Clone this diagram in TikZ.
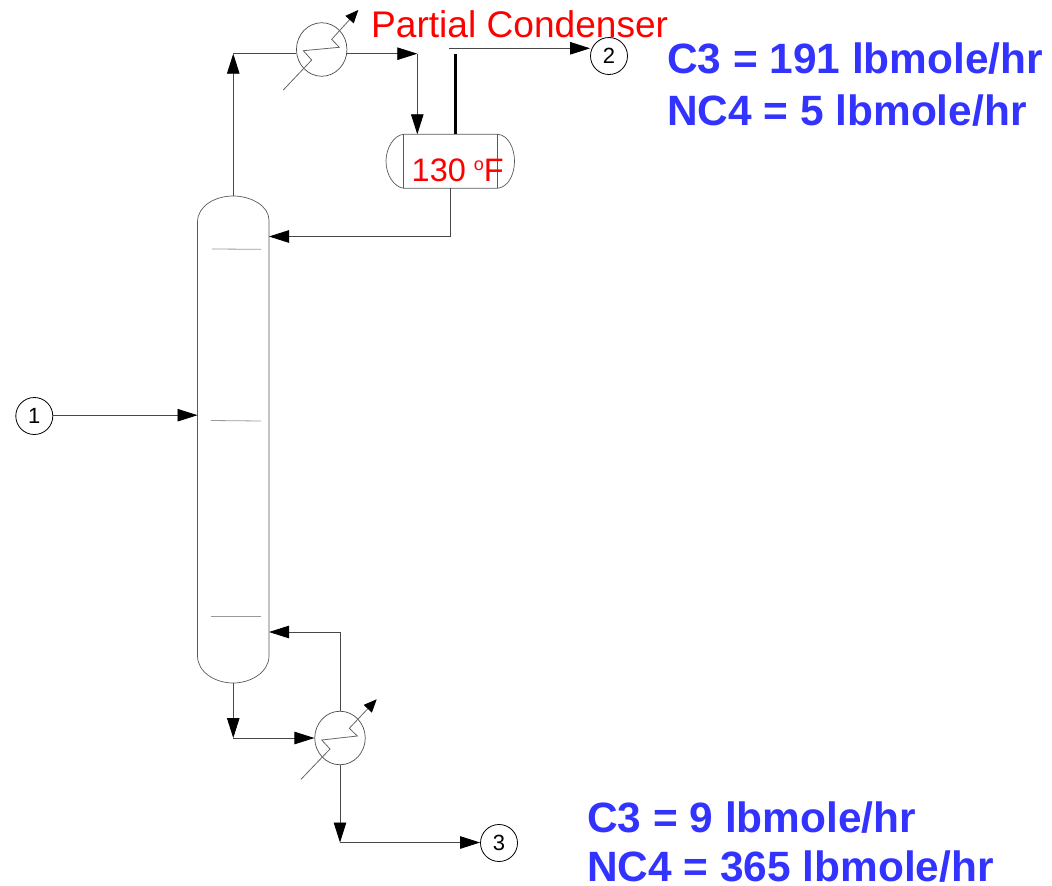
\documentclass[tikz,border=0pt]{standalone}
\usepackage{fontspec}
\setmainfont{Liberation Sans}
\usetikzlibrary{arrows.meta,calc}
\tikzset{
  pipe/.style={draw=black!72,line width=0.8pt},
  flow/.style={pipe,-{Triangle[length=20pt,width=12.5pt,color=black]}},
  utilflow/.style={draw=black!60,line width=0.8pt,-{Triangle[length=13pt,width=11pt,color=black]}},
  shell/.style={draw=black!65,line width=0.7pt},
  tray/.style={draw=black!40,line width=0.8pt},
  hxbox/.style={draw=black!70,line width=0.7pt,circle,minimum size=50.5pt,inner sep=0pt,yscale=1.06},
  stream/.style={draw=black,line width=0.8pt,circle,minimum size=37pt,inner sep=0pt,font=\fontsize{22}{24}\selectfont},
  anchorbox/.style={inner sep=0pt,outer sep=0pt,rectangle},
  redtext/.style={inner sep=0pt,anchor=base west,text=red},
  bluetext/.style={inner sep=0pt,anchor=base west,text=blueish,font=\bfseries\fontsize{42.4}{46}\selectfont},
}
\definecolor{blueish}{HTML}{3333FF}
\begin{document}
\begin{tikzpicture}[x=1pt,y=-1pt]
\useasboundingbox (0,0) rectangle (1052,886);
% equipment anchors
\node[anchorbox,minimum width=71.5pt,minimum height=487pt] (col) at (233.25,439.5) {};
\node[anchorbox,minimum width=128pt,minimum height=54pt] (drum) at (450.25,161.3) {};
\node[hxbox] (cond) at (321.7,49.5) {};
\node[hxbox] (reb) at (340,738) {};
\node[stream] (s1) at (34.3,416) {1};
\node[stream] (s2) at (609,56) {2};
\node[stream] (s3) at (499,843) {3};
% column
\draw[shell] (197.5,222) .. controls (197.5,206) and (215,196) .. (col.north)
  .. controls (251,196) and (269,206) .. (269,220) -- (269,656)
  .. controls (269,672) and (251,683) .. (col.south)
  .. controls (215,683) and (197.5,672) .. (197.5,656) -- cycle;
\draw[tray] (212,249) -- (261,249.3);
\draw[tray] (211,420.5) -- (261,421);
\draw[tray] (211,616.5) -- (261,616.5);
% drum
\draw[shell] (403.7,134.3) -- (497.7,134.3) .. controls (508,135) and (514.5,148) .. (514.5,161)
  .. controls (514.5,175) and (508,187) .. (497.7,188.3) -- (403.7,188.3)
  .. controls (394,187) and (386,175) .. (386,161)
  .. controls (386,148) and (394,135) .. (403.7,134.3) -- cycle;
\draw[shell] (403.7,134.3) -- (403.7,188.3);
\draw[shell] (497.7,134.3) -- (497.7,188.3);
% named junctions
\coordinate (topc) at (233.25,53.7);
\coordinate (condj) at (417.3,53.7);
\coordinate (vapb) at (455.5,54);
\coordinate (vapt) at (449,48.3);
\coordinate (refj) at (450.5,236.5);
\coordinate (rebt) at (340,632);
\coordinate (botj) at (233.25,738);
\coordinate (s3j) at (340,842.5);
\coordinate (c1) at (283.3,90);
\coordinate (c2) at (358.3,10);
\coordinate (r1) at (301,779.3);
\coordinate (r2) at (376.7,699.3);
% connectors
\draw[flow] (col.north) -- (topc);
\draw[pipe] (topc) -- (cond.west |- topc);
\draw[flow] (cond.east |- condj) -- (condj);
\draw[flow] (condj) -- (condj |- drum.north);
\draw[draw=black,line width=2.6pt] (vapb |- drum.north) -- (vapb);
\draw[flow] (vapt) -- (s2.west |- vapt);
\draw[pipe] (refj |- drum.south) -- (refj);
\draw[flow] (refj) -- (col.east |- refj);
\draw[flow] (s1.east |- 0,415.2) -- (col.west |- 0,415.2);
\draw[flow] (col.south) -- (botj);
\draw[flow] (botj) -- (reb.west |- botj);
\draw[pipe] (reb.north) -- (rebt);
\draw[flow] (rebt) -- (col.east |- rebt);
\draw[flow] (reb.south) -- (s3j);
\draw[flow] (s3j) -- (s3.west |- s3j);
% exchanger zigzags
\draw[utilflow] (c1) -- (311.7,60) -- (303.3,50.7) -- (339.3,47.3) -- (331.7,39.3) -- (c2);
\draw[utilflow] (r1) -- (330,749) -- (321.7,740) -- (357.3,736) -- (349.3,728.3) -- (r2);
% labels
\node[redtext,font=\fontsize{37.1}{40}\selectfont] (lpc) at (371,37.5) {Partial Condenser};
\node[redtext,font=\fontsize{32.5}{36}\selectfont] (ltemp) at (411.5,181) {130\hspace{8pt}\raisebox{11pt}{\fontsize{18}{20}\selectfont o}F};
\node[bluetext] (t1) at (667,73.8) {C3 = 191 lbmole/hr};
\node[bluetext] (t2) at (667,125) {NC4 = 5 lbmole/hr};
\node[bluetext] (t3) at (587,832) {C3 = 9 lbmole/hr};
\node[bluetext] (t4) at (587,881.5) {NC4 = 365 lbmole/hr};
\end{tikzpicture}
\end{document}
